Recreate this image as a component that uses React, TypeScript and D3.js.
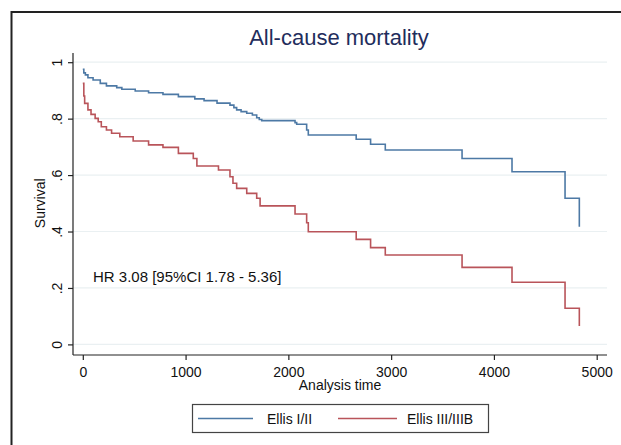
import React, { useRef, useEffect } from 'react';
import * as d3 from 'd3';

// Kaplan-Meier estimates (time in days, survival)
const blueTimes = [0, 10, 25, 50, 100, 170, 230, 330, 380, 510, 640, 780, 930, 1090, 1180, 1306, 1432, 1470, 1497, 1540, 1595, 1650, 1692, 1717, 1741, 2065, 2081, 2178, 2194, 2660, 2800, 2943, 3690, 4176, 4692, 4831];
const blueSurv = [0.975, 0.962, 0.955, 0.945, 0.937, 0.925, 0.916, 0.91, 0.904, 0.898, 0.892, 0.886, 0.878, 0.87, 0.864, 0.855, 0.848, 0.839, 0.831, 0.825, 0.819, 0.813, 0.803, 0.797, 0.793, 0.786, 0.78, 0.76, 0.742, 0.727, 0.709, 0.689, 0.659, 0.612, 0.518, 0.417];

const redTimes = [0, 10, 18, 50, 80, 120, 150, 180, 230, 280, 360, 490, 640, 780, 930, 1075, 1110, 1320, 1432, 1461, 1497, 1595, 1692, 1725, 2065, 2178, 2194, 2660, 2800, 2943, 3690, 4176, 4692, 4831];
const redSurv = [0.925, 0.88, 0.854, 0.831, 0.815, 0.801, 0.789, 0.771, 0.76, 0.748, 0.736, 0.721, 0.707, 0.698, 0.677, 0.659, 0.632, 0.618, 0.594, 0.571, 0.553, 0.535, 0.518, 0.491, 0.462, 0.431, 0.399, 0.372, 0.343, 0.317, 0.273, 0.22, 0.128, 0.065];

const seriesNames = ['Ellis I/II', 'Ellis III/IIIB'];
const seriesColors = ['#4d79a5', '#b9545a'];

const xTicks = [0, 1000, 2000, 3000, 4000, 5000];
const yTicks = [0, 0.2, 0.4, 0.6, 0.8, 1];
const yTickLabels = ['0', '.2', '.4', '.6', '.8', '1'];

const FONT = '"Liberation Sans", Arial, Helvetica, sans-serif';

const KMChart = () => {
  const svgRef = useRef<SVGSVGElement | null>(null);

  useEffect(() => {
    const svg = d3.select(svgRef.current);
    svg.selectAll('*').remove();

    const width = 621;
    const height = 445;
    const plotLeft = 73;
    const plotRight = 607;
    const plotTop = 53;
    const axisY = 355;

    const x = d3.scaleLinear().domain([0, 5000]).range([82.8, 596.7]);
    const y = d3.scaleLinear().domain([0, 1]).range([344.4, 62.2]);

    svg.append('rect').attr('width', width).attr('height', height).attr('fill', '#fff');

    // outer graph frame (clipped on right and bottom)
    svg.append('path')
      .attr('d', `M11.5,${height} V12 H${width}`)
      .attr('fill', 'none')
      .attr('stroke', '#222')
      .attr('stroke-width', 2);

    // title
    svg.append('text')
      .attr('x', 339)
      .attr('y', 45)
      .attr('text-anchor', 'middle')
      .attr('font-family', FONT)
      .attr('font-size', 22)
      .attr('fill', '#1f2d5c')
      .text('All-cause mortality');

    // gridlines
    svg.append('g')
      .selectAll('line')
      .data(yTicks)
      .join('line')
      .attr('x1', plotLeft)
      .attr('x2', plotRight)
      .attr('y1', d => y(d))
      .attr('y2', d => y(d))
      .attr('stroke', '#eaf0f2')
      .attr('stroke-width', 1.2);

    // axes lines
    svg.append('line')
      .attr('x1', plotLeft).attr('x2', plotLeft)
      .attr('y1', plotTop).attr('y2', axisY)
      .attr('stroke', '#222').attr('stroke-width', 1.2);
    svg.append('line')
      .attr('x1', plotLeft).attr('x2', plotRight)
      .attr('y1', axisY).attr('y2', axisY)
      .attr('stroke', '#222').attr('stroke-width', 1.2);

    // y axis
    const yAxis = svg.append('g')
      .attr('transform', `translate(${plotLeft},0)`)
      .call(
        d3.axisLeft(y)
          .tickValues(yTicks)
          .tickSize(5)
          .tickSizeOuter(0)
          .tickFormat((_d, i) => yTickLabels[i])
      );
    yAxis.select('.domain').remove();
    yAxis.selectAll('line').attr('stroke', '#222').attr('stroke-width', 1.2);
    yAxis.selectAll<SVGTextElement, number>('text')
      .attr('x', null)
      .attr('dy', null)
      .attr('font-family', FONT)
      .attr('font-size', 14)
      .attr('fill', '#111')
      .attr('text-anchor', 'middle')
      .attr('transform', 'translate(-11,0) rotate(-90)');

    // x axis
    const xAxis = svg.append('g')
      .attr('transform', `translate(0,${axisY})`)
      .call(d3.axisBottom(x).tickValues(xTicks).tickSize(5).tickSizeOuter(0).tickFormat(d3.format('d')));
    xAxis.select('.domain').remove();
    xAxis.selectAll('line').attr('stroke', '#222').attr('stroke-width', 1.2);
    xAxis.selectAll('text')
      .attr('y', 21.5)
      .attr('dy', null)
      .attr('font-family', FONT)
      .attr('font-size', 14)
      .attr('fill', '#111');

    // axis titles
    svg.append('text')
      .attr('transform', `translate(45,${(y(0) + y(1)) / 2}) rotate(-90)`)
      .attr('text-anchor', 'middle')
      .attr('font-family', FONT)
      .attr('font-size', 14)
      .attr('fill', '#111')
      .text('Survival');
    svg.append('text')
      .attr('x', (plotLeft + plotRight) / 2)
      .attr('y', 390)
      .attr('text-anchor', 'middle')
      .attr('font-family', FONT)
      .attr('font-size', 14)
      .attr('fill', '#111')
      .text('Analysis time');

    // survival curves
    const line = d3.line<[number, number]>()
      .x(d => x(d[0]))
      .y(d => y(d[1]))
      .curve(d3.curveStepAfter);

    const series: [number, number][][] = [
      blueTimes.map((t, i) => [t, blueSurv[i]]),
      redTimes.map((t, i) => [t, redSurv[i]]),
    ];

    series.forEach((pts, i) => {
      svg.append('path')
        .attr('d', line(pts))
        .attr('fill', 'none')
        .attr('stroke', seriesColors[i])
        .attr('stroke-width', 1.6);
    });

    // annotation
    svg.append('text')
      .attr('x', 93)
      .attr('y', 282)
      .attr('font-family', FONT)
      .attr('font-size', 15)
      .attr('fill', '#111')
      .text('HR 3.08 [95%CI 1.78 - 5.36]');

    // legend
    const legend = svg.append('g');
    legend.append('rect')
      .attr('x', 192.5).attr('y', 404.5)
      .attr('width', 296).attr('height', 28)
      .attr('fill', '#fff')
      .attr('stroke', '#444')
      .attr('stroke-width', 1.2);
    const legendItems = [
      { x1: 198, x2: 253, tx: 267 },
      { x1: 338, x2: 397, tx: 407 },
    ];
    legendItems.forEach((it, i) => {
      legend.append('line')
        .attr('x1', it.x1).attr('x2', it.x2)
        .attr('y1', 418.5).attr('y2', 418.5)
        .attr('stroke', seriesColors[i])
        .attr('stroke-width', 1.6);
      legend.append('text')
        .attr('x', it.tx)
        .attr('y', 423.5)
        .attr('font-family', FONT)
        .attr('font-size', 14)
        .attr('fill', '#111')
        .text(seriesNames[i]);
    });
  }, []);

  return <svg ref={svgRef} width={621} height={445} style={{ display: 'block' }} />;
};

export default function App() {
  return (
    <div style={{ position: 'absolute', left: 0, top: 0 }}>
      <KMChart />
    </div>
  );
}
